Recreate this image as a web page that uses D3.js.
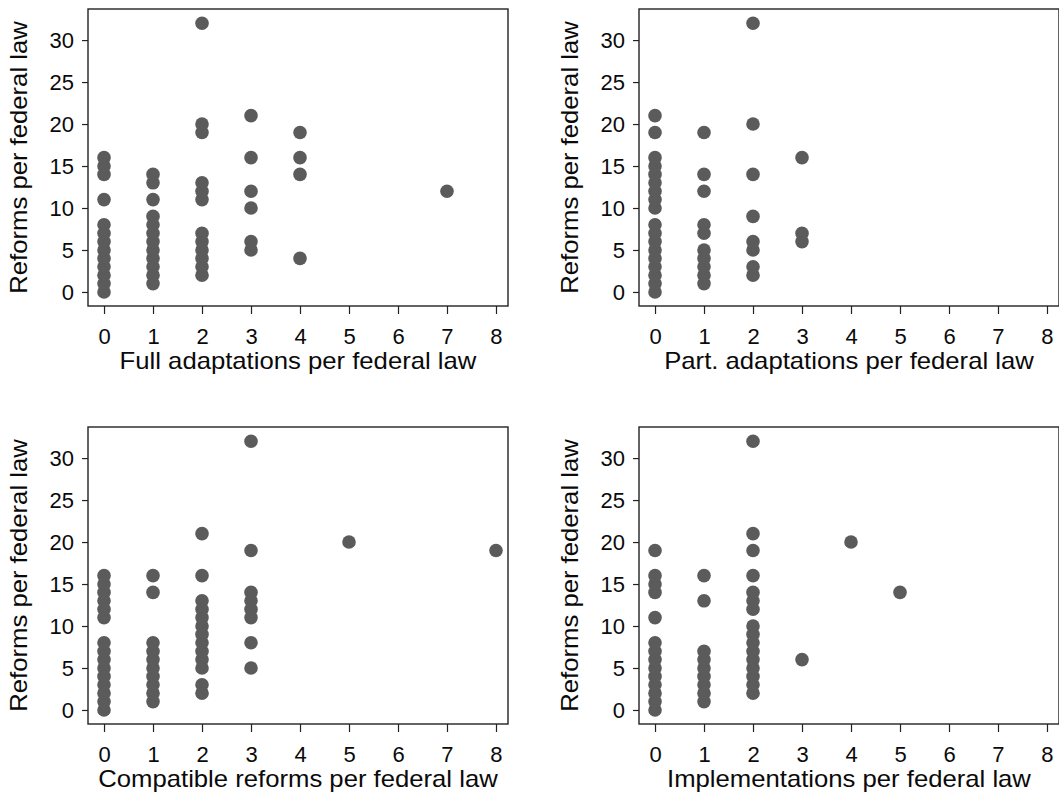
<!DOCTYPE html>
<html lang="en">
<head>
  <meta charset="utf-8" />
  <title>Reforms per federal law</title>
  <script src="https://cdn.jsdelivr.net/npm/d3@7"></script>
  <style>
    body { margin: 0; background: #fff; }
    svg text { font-family: "Liberation Sans", Arial, sans-serif; fill: #0a0a0a; }
    .axis path { display: none; }
    .axis line { stroke: #222; stroke-width: 1.2; }
  </style>
</head>
<body>
<script>
// reforms per federal law, grouped by the x value of each column
var fullCols = [0, 1, 2, 3, 4, 7];
var fullReforms = [
  [0, 1, 2, 3, 4, 5, 6, 7, 8, 11, 14, 15, 16],
  [1, 2, 3, 4, 5, 6, 7, 8, 9, 11, 13, 14],
  [2, 3, 4, 5, 6, 7, 11, 12, 13, 19, 20, 32],
  [5, 6, 10, 12, 16, 21],
  [4, 14, 16, 19],
  [12]
];

var partCols = [0, 1, 2, 3];
var partReforms = [
  [0, 1, 2, 3, 4, 5, 6, 7, 8, 10, 11, 12, 13, 14, 15, 16, 19, 21],
  [1, 2, 3, 4, 5, 7, 8, 12, 14, 19],
  [2, 3, 5, 6, 9, 14, 20, 32],
  [6, 7, 16]
];

var compCols = [0, 1, 2, 3, 5, 8];
var compReforms = [
  [0, 1, 2, 3, 4, 5, 6, 7, 8, 11, 12, 13, 14, 15, 16],
  [1, 2, 3, 4, 5, 6, 7, 8, 14, 16],
  [2, 3, 5, 6, 7, 8, 9, 10, 11, 12, 13, 16, 21],
  [5, 8, 11, 12, 13, 14, 19, 32],
  [20],
  [19]
];

var implCols = [0, 1, 2, 3, 4, 5];
var implReforms = [
  [0, 1, 2, 3, 4, 5, 6, 7, 8, 11, 14, 15, 16, 19],
  [1, 2, 3, 4, 5, 6, 7, 13, 16],
  [2, 3, 4, 5, 6, 7, 8, 9, 10, 12, 13, 14, 16, 19, 21, 32],
  [6],
  [20],
  [14]
];

var xTicks = [0, 1, 2, 3, 4, 5, 6, 7, 8];
var yTicks = [0, 5, 10, 15, 20, 25, 30];
var yTitle = "Reforms per federal law";

var panels = [
  {title: "Full adaptations per federal law", cols: fullCols, vals: fullReforms, left: 88, top: 9},
  {title: "Part. adaptations per federal law", cols: partCols, vals: partReforms, left: 639, top: 9},
  {title: "Compatible reforms per federal law", cols: compCols, vals: compReforms, left: 88, top: 427},
  {title: "Implementations per federal law", cols: implCols, vals: implReforms, left: 639, top: 427}
];

var W = 1059, H = 798;
var pw = 420, ph = 297;

var svg = d3.select("body").append("svg")
  .attr("width", W)
  .attr("height", H);

var x = d3.scaleLinear().domain([-0.327, 8.245]).range([0, pw]);
var y = d3.scaleLinear().domain([-1.67, 33.7]).range([ph, 0]);

panels.forEach(function(p) {
  var g = svg.append("g").attr("transform", "translate(" + p.left + "," + p.top + ")");

  var pts = [];
  p.cols.forEach(function(c, i) {
    p.vals[i].forEach(function(v) { pts.push({x: c, y: v}); });
  });

  g.selectAll("circle")
    .data(pts)
    .enter().append("circle")
    .attr("cx", function(d) { return x(d.x); })
    .attr("cy", function(d) { return y(d.y); })
    .attr("r", 6.8)
    .style("fill", "#5b5b5b");

  g.append("rect")
    .attr("width", pw)
    .attr("height", ph)
    .style("fill", "none")
    .style("stroke", "#222")
    .style("stroke-width", 1.4);

  var xa = g.append("g").attr("class", "axis")
    .attr("transform", "translate(0," + ph + ")")
    .call(d3.axisBottom(x).tickValues(xTicks).tickSize(8).tickPadding(14));
  xa.selectAll("text").style("font-size", "22px");

  var ya = g.append("g").attr("class", "axis")
    .call(d3.axisLeft(y).tickValues(yTicks).tickSize(6).tickPadding(8));
  ya.selectAll("text").style("font-size", "22px");

  g.append("text")
    .attr("x", pw / 2)
    .attr("y", ph + 63)
    .attr("text-anchor", "middle")
    .style("font-size", "24px")
    .attr("transform", "translate(" + (pw / 2) + ",0) scale(1.07,1) translate(" + (-pw / 2) + ",0)")
    .text(p.title);

  g.append("text")
    .attr("transform", "translate(-61," + (ph / 2) + ") rotate(-90) scale(1.07,1)")
    .attr("text-anchor", "middle")
    .style("font-size", "24px")
    .text(yTitle);
});
</script>
</body>
</html>
